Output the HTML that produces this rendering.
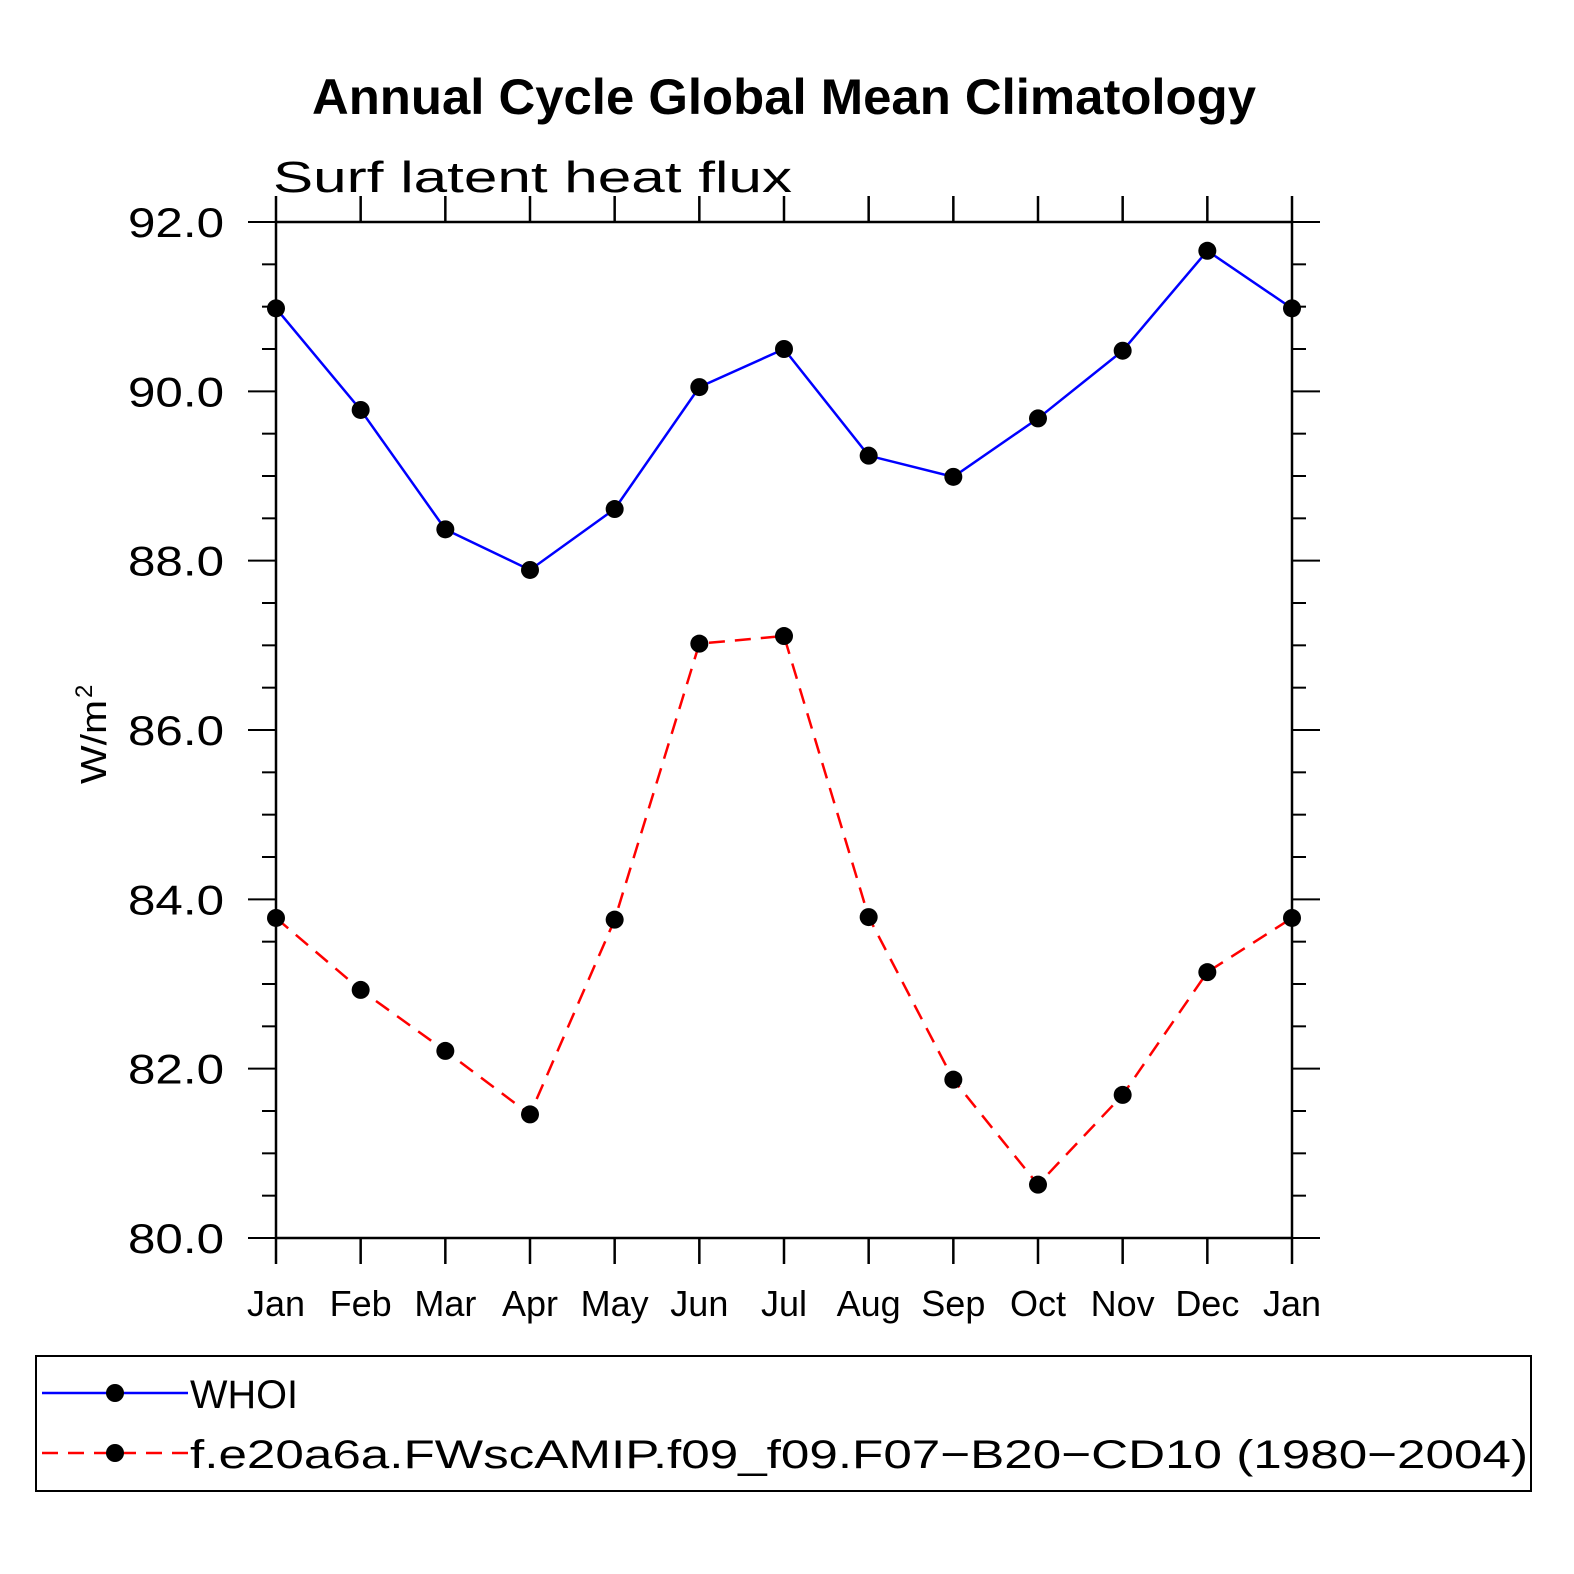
<!DOCTYPE html>
<html><head><meta charset="utf-8"><style>
body{margin:0;background:#fff}
svg{display:block}
text{font-family:"Liberation Sans",sans-serif;fill:#000}
</style></head><body>
<svg id="chart" width="1574" height="1574" viewBox="0 0 1574 1574" xmlns="http://www.w3.org/2000/svg">
<text x="312" y="114" font-size="50" font-weight="bold" textLength="944" lengthAdjust="spacingAndGlyphs">Annual Cycle Global Mean Climatology</text>
<text x="273" y="192" font-size="44" textLength="519" lengthAdjust="spacingAndGlyphs">Surf latent heat flux</text>
<text transform="translate(106,784) rotate(-90)" font-size="36" textLength="84" lengthAdjust="spacingAndGlyphs">W/m</text>
<text transform="translate(92,698) rotate(-90)" font-size="24">2</text>
<g id="axes"></g>
<g id="series"></g>
<g>
<rect x="36" y="1356" width="1495" height="135" fill="none" stroke="#000" stroke-width="2"/>
<g>
<line x1="42" y1="1393" x2="188" y2="1393" stroke="#0000ff" stroke-width="2.5"/>
<circle cx="115" cy="1393" r="9" fill="#000"/>
<text x="190" y="1408" font-size="40" textLength="108" lengthAdjust="spacingAndGlyphs">WHOI</text></g>
<g>
<line x1="42" y1="1453" x2="188" y2="1453" stroke="#ff0000" stroke-width="2.5" stroke-dasharray="16,10"/>
<circle cx="115" cy="1453" r="9" fill="#000"/>
<text x="190" y="1468" font-size="40" textLength="1338" lengthAdjust="spacingAndGlyphs">f.e20a6a.FWscAMIP.f09_f09.F07−B20−CD10 (1980−2004)</text></g>
</g>
</svg>
<script>
const months=["Jan","Feb","Mar","Apr","May","Jun","Jul","Aug","Sep","Oct","Nov","Dec","Jan"];
const whoi=[90.98,89.78,88.37,87.89,88.61,90.05,90.50,89.24,88.99,89.68,90.48,91.66,90.98];
const model=[83.78,82.93,82.21,81.46,83.76,87.02,87.11,83.79,81.87,80.63,81.69,83.14,83.78];
const yTicks=["80.0","82.0","84.0","86.0","88.0","90.0","92.0"];
const NS="http://www.w3.org/2000/svg";
const L=276,R=1292,T=222,B=1238,ymin=80,ymax=92;
const xs=i=>L+(R-L)*i/(months.length-1);
const ys=v=>B-(v-ymin)/(ymax-ymin)*(B-T);
function mk(tag,attrs,parent){const e=document.createElementNS(NS,tag);for(const k in attrs)e.setAttribute(k,attrs[k]);parent.appendChild(e);return e;}
const ax=document.getElementById('axes');
const frame=mk('rect',{x:L,y:T,width:R-L,height:B-T,fill:'none',stroke:'#000','stroke-width':2.5},ax);


months.forEach((m,i)=>{const x=xs(i);
 mk('line',{x1:x,y1:B,x2:x,y2:B+26,stroke:'#000','stroke-width':2.5},ax);
 mk('line',{x1:x,y1:T,x2:x,y2:T-26,stroke:'#000','stroke-width':2.5},ax);
 const t=mk('text',{x:x,y:B+78,'text-anchor':'middle','font-size':36},ax);t.textContent=m;
 
 
});
for(let v=ymin;v<=ymax+1e-9;v+=0.5){const y=ys(v);const major=Math.abs(v%2)<1e-9;
 const len=major?28:14;
 mk('line',{x1:L-len,y1:y,x2:L,y2:y,stroke:'#000','stroke-width':2},ax);
 mk('line',{x1:R,y1:y,x2:R+len,y2:y,stroke:'#000','stroke-width':2},ax);
}
yTicks.forEach(s=>{const y=ys(parseFloat(s));
 const t=mk('text',{x:128,y:y+15,'font-size':42,textLength:96,lengthAdjust:'spacingAndGlyphs'},ax);t.textContent=s;
 
 
});
const sg=document.getElementById('series');
function drawSeries(vals,color,dash,name){
 const g=mk('g',{},sg);
 
 
 const p=mk('polyline',{points:vals.map((v,i)=>xs(i)+','+ys(v)).join(' '),fill:'none',stroke:color,'stroke-width':2.5},g);
 if(dash)p.setAttribute('stroke-dasharray',dash);
 vals.forEach((v,i)=>{const c=mk('circle',{cx:xs(i),cy:ys(v),r:9,fill:'#000'},g);
  
  });
}
drawSeries(whoi,'#0000ff',null,'whoi-series');
drawSeries(model,'#ff0000','16,10','model-series');
</script>
</body></html>
